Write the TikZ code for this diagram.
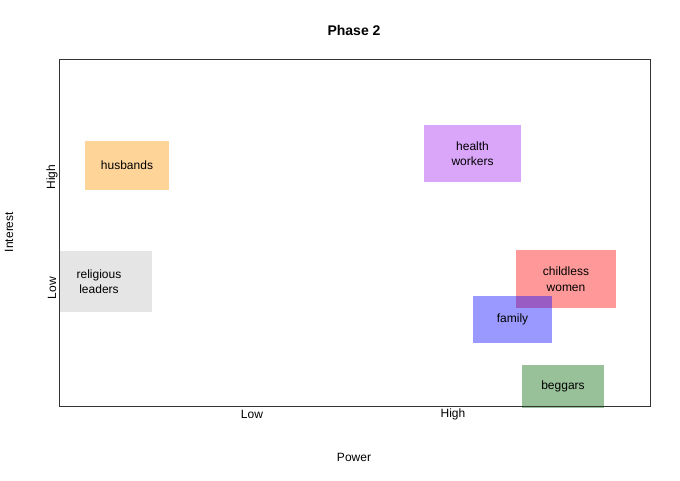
\documentclass[tikz,border=0pt]{standalone}
\usepackage{fontspec}
\setmainfont{Liberation Sans}
\usepackage{xcolor}
\usetikzlibrary{positioning}

\begin{document}
\begin{tikzpicture}[
    x=1pt, y=-1pt,
    stake/.style={inner sep=0pt, align=center, fill opacity=0.4, text opacity=1, font=\fontsize{12}{15.5}\selectfont},
    axlab/.style={font=\fontsize{12}{14}\selectfont, inner sep=0pt},
    frame/.style={draw=black!80, line width=0.75pt}
]
\useasboundingbox (0,0) rectangle (680,480);
\node[font=\bfseries\fontsize{14}{16}\selectfont] (title) at (354,30) {Phase 2};
% stakeholder boxes
\begin{scope}
\clip (59,0) rectangle (680,480);
\node[stake, fill={rgb,255:red,255;green,148;blue,0}, minimum width=84, minimum height=49] (husbands) at (127,165.5) {husbands};
\node[stake, fill={rgb,255:red,160;green,32;blue,240}, minimum width=97, minimum height=57] (health) at (472.5,153.5) {health\\workers};
\node[stake, fill={rgb,255:red,190;green,190;blue,190}, minimum width=106, minimum height=61] (religious) at (99,281.5) {religious\\leaders};
\node[stake, fill={rgb,255:red,255;green,0;blue,0}, minimum width=100, minimum height=58] (childless) at (566,279) {childless\\women};
\node[stake, fill={rgb,255:red,0;green,0;blue,255}, minimum width=79, minimum height=47] (family) at (512.5,319.5) {family};
\node[stake, fill={rgb,255:red,0;green,100;blue,0}, minimum width=82, minimum height=43] (beggars) at (563,386.5) {beggars};
\end{scope}
\draw[frame] (59,59) rectangle (650,406);
% axis labels
\node[axlab] (plow) at (252,414) {Low};
\node[axlab] (phigh) at (453,414) {High};
\node[axlab] (power) at (354,457) {Power};
\node[axlab, rotate=90] (ihigh) at (52,177) {High};
\node[axlab, rotate=90] (ilow) at (52,288) {Low};
\node[axlab, rotate=90] (interest) at (9,232) {Interest};
\end{tikzpicture}
\end{document}
